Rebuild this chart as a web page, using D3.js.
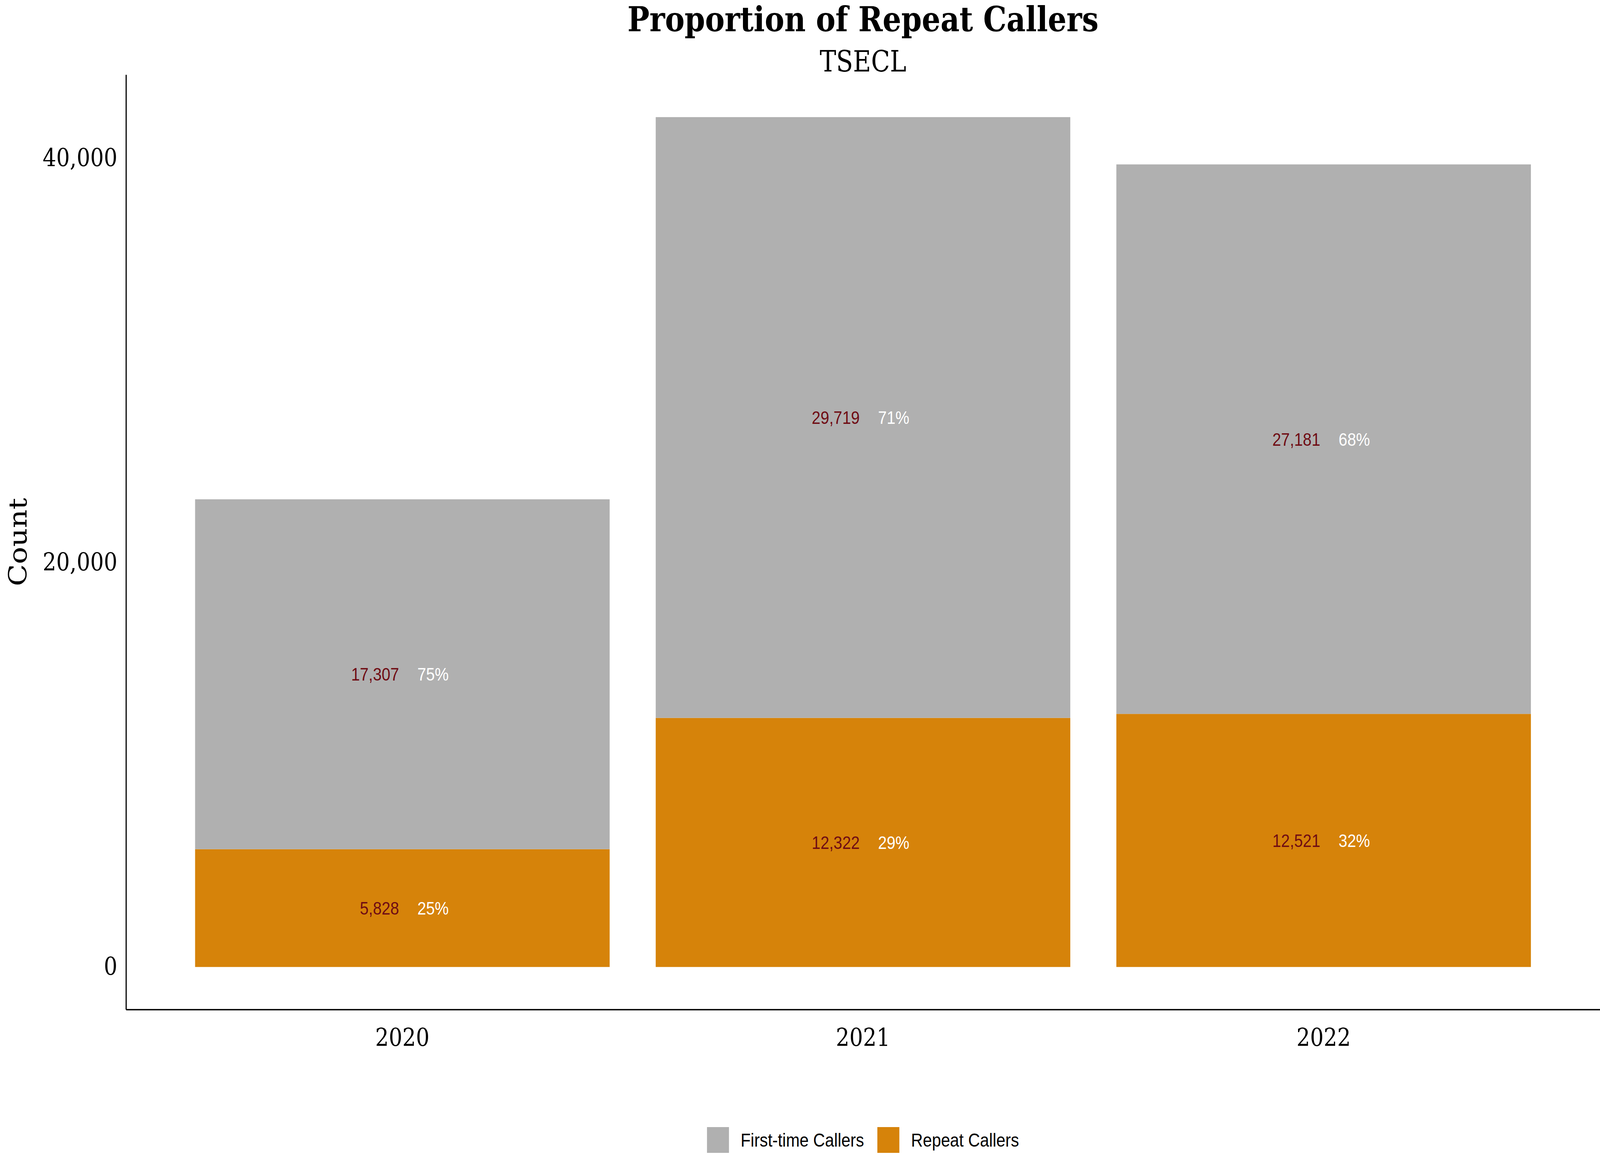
<!DOCTYPE html>
<html>
<head>
<meta charset="utf-8">
<script src="https://cdn.jsdelivr.net/npm/d3@7"></script>
<style>
  html, body { margin: 0; background: #fff; overflow: hidden; }
  #chart { display: block; width: 100vw; height: 100vh; }
</style>
</head>
<body>
<svg id="chart" viewBox="0 0 4800 3000" preserveAspectRatio="none"></svg>
<script>
// values
var years = ["2020", "2021", "2022"];
var firstTime = [17307, 29719, 27181];
var repeat = [5828, 12322, 12521];
var seriesNames = ["First-time Callers", "Repeat Callers"];
var seriesColors = ["#b0b0b0", "#d6830a"];
var yTicks = [0, 20000, 40000];

var rows = years.map(function(y, i) {
  return { year: y, "Repeat Callers": repeat[i], "First-time Callers": firstTime[i], total: repeat[i] + firstTime[i] };
});

var svg = d3.select('#chart');
// panel edges (note: "top" is taken by window.top, so prefix them)
var panelLeft = 378, panelRight = 4800, panelTop = 191, panelBottom = 2584;

var color = d3.scaleOrdinal().domain(seriesNames).range(seriesColors);

var x = d3.scaleBand().domain(years).range([panelLeft, panelRight])
  .paddingInner(0.1).paddingOuter(0.15);

// ggplot style 5% expansion on both ends
var maxTotal = d3.max(rows, function(d) { return d.total; });
var pad = maxTotal * 0.05;
var y = d3.scaleLinear().domain([-pad, maxTotal + pad]).range([panelBottom, panelTop]);

var stacked = d3.stack().keys(["Repeat Callers", "First-time Callers"])(rows);
var pct = d3.format(".0%"), comma = d3.format(",");

var layers = svg.append('g').selectAll('g')
  .data(stacked)
  .enter().append('g')
    .attr('fill', function(s) { return color(s.key); });

layers.selectAll('rect')
  .data(function(s) { return s; })
  .enter().append('rect')
    .attr('x', function(d) { return x(d.data.year); })
    .attr('width', x.bandwidth())
    .attr('y', function(d) { return y(d[1]); })
    .attr('height', function(d) { return y(d[0]) - y(d[1]); });

// count + share labels in the middle of each segment
stacked.forEach(function(s) {
  var g = svg.append('g')
    .style('font-family', '"Liberation Sans", Arial, sans-serif')
    .style('font-size', '47px');
  g.selectAll('text.count')
    .data(s)
    .enter().append('text').attr('class', 'count')
      .attr('x', function(d) { return x(d.data.year) + x.bandwidth() / 2 - 10; })
      .attr('y', function(d) { return y((d[0] + d[1]) / 2); })
      .attr('dy', '0.35em')
      .attr('text-anchor', 'end')
      .attr('fill', '#6f0c14')
      .text(function(d) { return comma(d.data[s.key]); });
  g.selectAll('text.pct')
    .data(s)
    .enter().append('text').attr('class', 'pct')
      .attr('x', function(d) { return x(d.data.year) + x.bandwidth() / 2 + 45; })
      .attr('y', function(d) { return y((d[0] + d[1]) / 2); })
      .attr('dy', '0.35em')
      .attr('fill', '#ffffff')
      .text(function(d) { return pct(d.data[s.key] / d.data.total); });
});

// axes
var yAxis = svg.append('g')
  .attr('transform', 'translate(' + panelLeft + ',0)')
  .call(d3.axisLeft(y).tickValues(yTicks).tickFormat(comma).tickSize(0).tickPadding(26));
var xAxis = svg.append('g')
  .attr('transform', 'translate(0,' + panelBottom + ')')
  .call(d3.axisBottom(x).tickSize(0).tickPadding(49));

[yAxis, xAxis].forEach(function(a) {
  a.attr('font-family', '"DejaVu Serif", serif').attr('font-size', 64);
  a.select('.domain').attr('stroke', '#000').attr('stroke-width', 3.5);
  a.selectAll('text').attr('fill', '#000');
});

// titles
var midX = (panelLeft + panelRight) / 2;
svg.append('text')
  .attr('x', midX).attr('y', 80)
  .attr('text-anchor', 'middle')
  .style('font-family', '"DejaVu Serif", serif')
  .style('font-weight', 'bold')
  .style('font-size', '88px')
  .text('Proportion of Repeat Callers');

svg.append('text')
  .attr('x', midX).attr('y', 183)
  .attr('text-anchor', 'middle')
  .style('font-family', '"DejaVu Serif", serif')
  .style('font-size', '74px')
  .text('TSECL');

svg.append('text')
  .attr('transform', 'translate(80,' + (panelTop + panelBottom) / 2 + ') rotate(-90)')
  .attr('text-anchor', 'middle')
  .style('font-family', '"DejaVu Serif", serif')
  .style('font-size', '74px')
  .text('Count');

// legend, centred under the panel
var legend = svg.append('g')
  .style('font-family', '"Liberation Sans", Arial, sans-serif')
  .style('font-size', '49px');
var cursor = 0;
seriesNames.forEach(function(name) {
  var item = legend.append('g').attr('transform', 'translate(' + cursor + ',0)');
  item.append('rect').attr('width', 66).attr('height', 66).attr('fill', color(name));
  var t = item.append('text').attr('x', 101).attr('y', 33).attr('dy', '0.35em').text(name);
  cursor += 101 + t.node().getComputedTextLength() + 40;
});
cursor -= 40;
legend.attr('transform', 'translate(' + (midX - cursor / 2) + ',2885)');
</script>
</body>
</html>
